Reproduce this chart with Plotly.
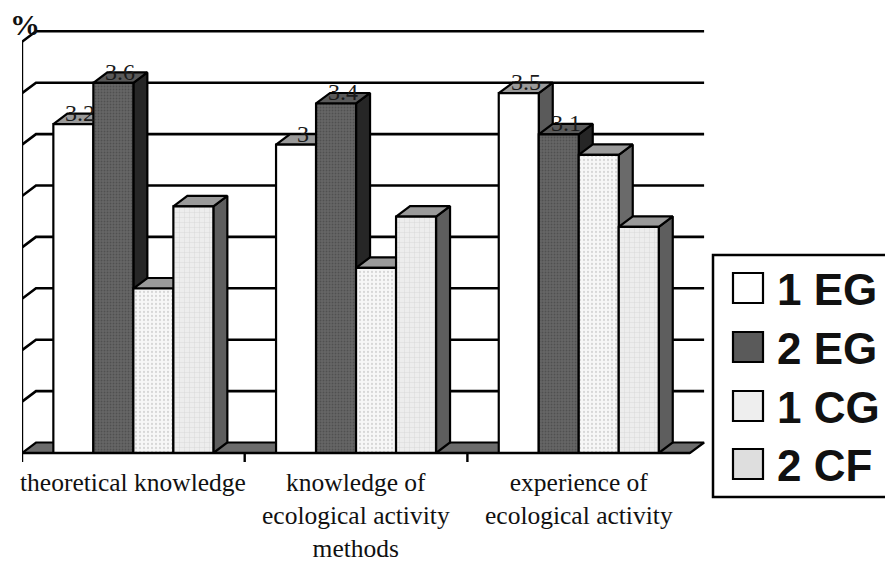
import plotly.graph_objects as go

# ---------------- data ----------------
categories = [
    "theoretical knowledge",
    "knowledge of<br>ecological activity<br>methods",
    "experience of<br>ecological activity",
]
series_names = ["1 EG", "2 EG", "1 CG", "2 CF"]
eg1_values = [3.2, 3.0, 3.5]
eg2_values = [3.6, 3.4, 3.1]
cg1_values = [1.6, 1.8, 2.9]
cf2_values = [2.4, 2.3, 2.2]
series_values = [eg1_values, eg2_values, cg1_values, cf2_values]
series_labeled = [True, True, False, False]
grid_levels = [0.5, 1.0, 1.5, 2.0, 2.5, 3.0, 3.5, 4.0]
y_axis_title = "%"

# ---------------- styles / geometry ----------------
W, H = 885, 563
ML, MR, MT, MB = 22, 150, 10, 63
UX = 222.7          # px per category
UY = 102.8          # px per value unit
Y0PX = 453          # pixel row of value 0 (front)
plot_w = W - ML - MR
plot_h = H - MT - MB
x_range = [0, plot_w / UX]
y_max = (Y0PX - MT) / UY
y_range = [y_max - plot_h / UY, y_max]
DX = 14 / UX
DY = 10.5 / UY
BW = 40 / UX
START = 0.5 - 2 * BW

front_fill = ["#ffffff", "#5e5e5e", "#f1f1f1", "#e4e4e4"]
front_pattern = [
    None,
    dict(shape=".", bgcolor="#666666", fgcolor="#3a3a3a", size=3, solidity=0.3),
    dict(shape=".", bgcolor="#f7f7f7", fgcolor="#b5b5b5", size=4, solidity=0.25),
    dict(shape="+", bgcolor="#ededed", fgcolor="#c4c4c4", size=5, solidity=0.2),
]
top_fill = ["#9a9a9a", "#5a5a5a", "#9a9a9a", "#9a9a9a"]
side_fill = ["#5a5a5a", "#262626", "#6a6a6a", "#5e5e5e"]
legend_fill = ["#ffffff", "#5a5a5a", "#eeeeee", "#dedede"]
LW = 2.2

fig = go.Figure()


def poly(xs, ys, fill, pattern=None):
    kw = dict(
        x=list(xs) + [xs[0]], y=list(ys) + [ys[0]], mode="lines", fill="toself",
        fillcolor=fill, line=dict(color="black", width=LW),
        hoverinfo="skip", showlegend=False,
    )
    if pattern:
        kw["fillpattern"] = pattern
    fig.add_trace(go.Scatter(**kw))


def lines(xs, ys, width=LW):
    fig.add_trace(go.Scatter(x=xs, y=ys, mode="lines",
                             line=dict(color="black", width=width),
                             hoverinfo="skip", showlegend=False))


ncat = len(categories)

# floor
poly([0, ncat, ncat + DX, DX], [0, 0, DY, DY], "#6c6c6c")

# back wall gridlines + left wall diagonals
gx, gy = [], []
for lv in grid_levels:
    gx += [0, DX, ncat + DX, None]
    gy += [lv, lv + DY, lv + DY, None]
lines(gx, gy, 2.6)

# front value axis with left ticks
tx, ty = [0, 0, None], [0, grid_levels[-1], None]
for lv in [0] + grid_levels:
    tx += [-8 / UX, 0, None]
    ty += [lv, lv, None]
lines(tx, ty, 2.4)

# bars (side, top, front)
for ci in range(ncat):
    for si, vals in enumerate(series_values):
        v = vals[ci]
        x0 = ci + START + si * BW
        x1 = x0 + BW
        poly([x1, x1 + DX, x1 + DX, x1], [0, DY, v + DY, v], side_fill[si])
        poly([x0, x1, x1 + DX, x0 + DX], [v, v, v + DY, v + DY], top_fill[si])
        poly([x0, x1, x1, x0], [0, 0, v, v], front_fill[si], front_pattern[si])

# front category axis + ticks
ax_x, ax_y = [0, ncat, None], [0, 0, None]
for ci in range(ncat):
    ax_x += [ci, ci, None]
    ax_y += [0, -9 / UY, None]
lines(ax_x, ax_y, 2.4)

annotations = []
# data labels
for ci in range(ncat):
    for si, vals in enumerate(series_values):
        if not series_labeled[si]:
            continue
        v = vals[ci]
        xc = ci + START + si * BW + BW / 2 + DX / 2
        annotations.append(dict(
            x=xc, y=v + 11 / UY, xref="x", yref="y", text=f"{v:g}",
            showarrow=False, xanchor="center", yanchor="middle",
            font=dict(family="Liberation Serif", size=24, color="#1a1a1a"),
        ))

# category labels
for ci, cat in enumerate(categories):
    annotations.append(dict(
        x=ci + 0.5, y=-13 / UY, xref="x", yref="y", text=cat,
        showarrow=False, xanchor="center", yanchor="top",
        font=dict(family="Liberation Serif", size=25.5, color="#111111"),
    ))

# axis title "%"
annotations.append(dict(
    x=3 / UX, y=(Y0PX - 24) / UY, xref="x", yref="y", text=f"<b>{y_axis_title}</b>",
    showarrow=False, xanchor="center", yanchor="middle",
    font=dict(family="Liberation Serif", size=30, color="#111111"),
))


# manual legend (pixel -> paper)
def pxp(px):
    return (px - ML) / plot_w


def pyp(py):
    return (H - MB - py) / plot_h


shapes = [dict(type="rect", xref="paper", yref="paper",
               x0=pxp(713), x1=pxp(892), y0=pyp(497), y1=pyp(255),
               line=dict(color="black", width=2.5), fillcolor="white", layer="above")]
row_c = [288, 347, 406, 464]
for si, name in enumerate(series_names):
    yc = row_c[si]
    shapes.append(dict(type="rect", xref="paper", yref="paper",
                       x0=pxp(733), x1=pxp(763), y0=pyp(yc + 15), y1=pyp(yc - 15),
                       line=dict(color="black", width=2.2), fillcolor=legend_fill[si],
                       layer="above"))
    annotations.append(dict(
        x=pxp(775), y=pyp(yc + 1), xref="paper", yref="paper", text=f"<b>{name}</b>",
        showarrow=False, xanchor="left", yanchor="middle",
        font=dict(family="Liberation Sans", size=44, color="#111111"),
    ))

fig.update_layout(
    width=W, height=H,
    margin=dict(l=ML, r=MR, t=MT, b=MB, pad=0),
    paper_bgcolor="white", plot_bgcolor="white",
    xaxis=dict(range=x_range, visible=False, fixedrange=True),
    yaxis=dict(range=y_range, visible=False, fixedrange=True),
    showlegend=False,
    annotations=annotations,
    shapes=shapes,
)

fig.write_html("out.html", config={"displayModeBar": False},
               post_script="document.body.style.margin='0';")
